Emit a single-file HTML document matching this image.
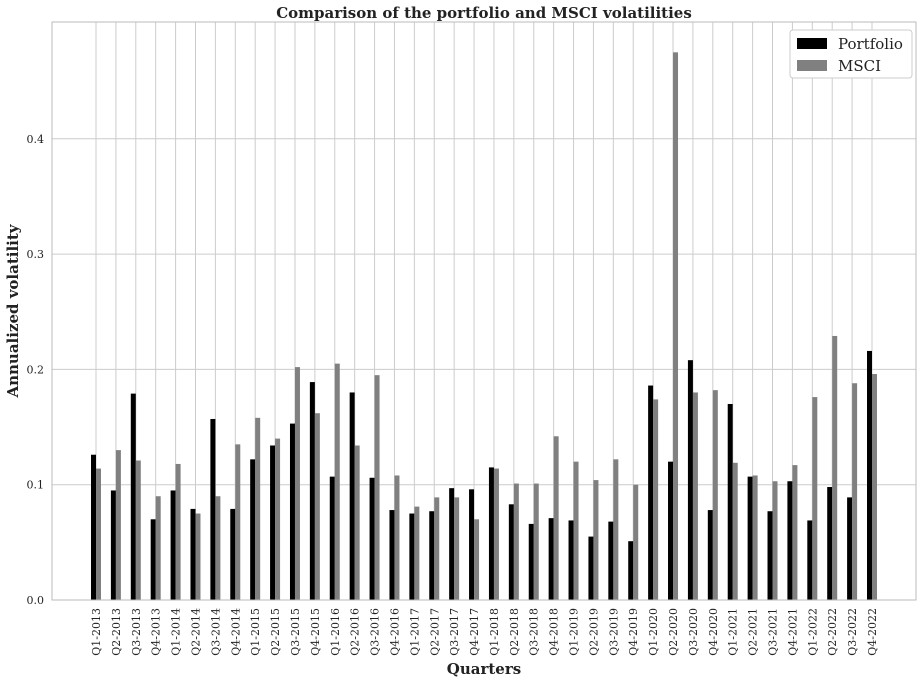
<!DOCTYPE html>
<html><head><meta charset="utf-8"><style>
html,body{margin:0;padding:0;background:#fff;}
svg{display:block;font-family:"DejaVu Serif","Liberation Serif",serif;}
</style></head><body>
<svg id="chart" width="923" height="683">
<rect x="0" y="0" width="923" height="683" fill="#fff"/>
<g id="grid"></g>
<g id="bars"></g>
<rect x="52" y="22" width="864" height="578" fill="none" stroke="#bbb" stroke-width="1"/>
<g id="xticks"></g>
<g id="yticks"></g>
<text x="484" y="18" text-anchor="middle" font-size="15" font-weight="bold" fill="#222">Comparison of the portfolio and MSCI volatilities</text>
<text x="484" y="674" text-anchor="middle" font-size="15" font-weight="bold" fill="#222">Quarters</text>
<text transform="translate(18,311) rotate(-90)" text-anchor="middle" font-size="15" font-weight="bold" fill="#222">Annualized volatility</text>
<g>
<rect x="790" y="30" width="122" height="48" fill="#fff" stroke="#ccc" rx="3"/>
<rect x="797" y="38" width="30" height="11" fill="#000"/>
<text x="838" y="49" font-size="15" fill="#222">Portfolio</text>
<rect x="797" y="60" width="30" height="11" fill="#808080"/>
<text x="838" y="71" font-size="15" fill="#222">MSCI</text>
</g>
</svg>
<script>
const quarters = [];
for (let y = 2013; y <= 2022; y++) for (let q = 1; q <= 4; q++) quarters.push('Q' + q + '-' + y);
const portfolio = [0.126,0.095,0.179,0.070,0.095,0.079,0.157,0.079,0.122,0.134,0.153,0.189,0.107,0.180,0.106,0.078,0.075,0.077,0.097,0.096,0.115,0.083,0.066,0.071,0.069,0.055,0.068,0.051,0.186,0.120,0.208,0.078,0.170,0.107,0.077,0.103,0.069,0.098,0.089,0.216];
const msci = [0.114,0.130,0.121,0.090,0.118,0.075,0.090,0.135,0.158,0.140,0.202,0.162,0.205,0.134,0.195,0.108,0.081,0.089,0.089,0.070,0.114,0.101,0.101,0.142,0.120,0.104,0.122,0.100,0.174,0.475,0.180,0.182,0.119,0.108,0.103,0.117,0.176,0.229,0.188,0.196];
const yTicks = [0.0,0.1,0.2,0.3,0.4];

const NS = 'http://www.w3.org/2000/svg';
const x0 = 96, step = (872 - 96) / 39;
function xPos(i){ return x0 + i * step; }
function yPos(v){ return 600 - v * 1153; }
function mk(tag, attrs, parent){ const e = document.createElementNS(NS, tag); for (const k in attrs) e.setAttribute(k, attrs[k]); parent.appendChild(e); return e; }
const grid = document.getElementById('grid'), bars = document.getElementById('bars');
const xt = document.getElementById('xticks'), yt = document.getElementById('yticks');

yTicks.forEach(v => {
  const l = mk('line', {x1:52, x2:916, y1:yPos(v), y2:yPos(v), stroke:'#ccc', 'stroke-width':1}, grid);
  
  
  const t = mk('text', {x:44, y:yPos(v)+4, 'text-anchor':'end', 'font-size':11, fill:'#222'}, yt);
  t.textContent = v.toFixed(1);
  
  
});
quarters.forEach((q, i) => {
  const x = xPos(i);
  const l = mk('line', {x1:x, x2:x, y1:22, y2:600, stroke:'#ccc', 'stroke-width':1}, grid);
  
  
  const bw = 5;
  const p = mk('rect', {x:x-bw, y:yPos(portfolio[i]), width:bw, height:600-yPos(portfolio[i]), fill:'#000'}, bars);
  
  
  const m = mk('rect', {x:x, y:yPos(msci[i]), width:bw, height:600-yPos(msci[i]), fill:'#808080'}, bars);
  
  
  const t = mk('text', {transform:'translate(' + (x+4) + ',608) rotate(-90)', 'text-anchor':'end', 'font-size':11, fill:'#222'}, xt);
  t.textContent = q;
  
  
});
</script>
</body></html>
